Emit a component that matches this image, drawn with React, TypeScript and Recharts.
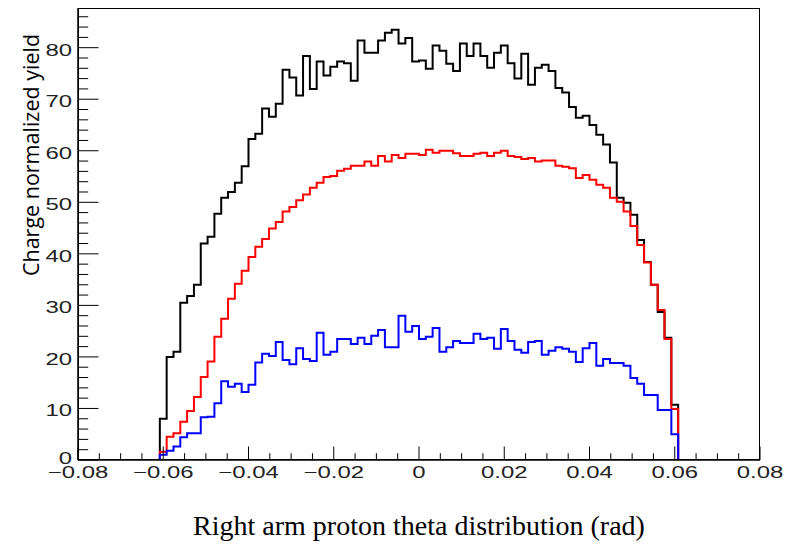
import React from "react";
import { LineChart, Line, XAxis, YAxis } from "recharts";

// histogram binning: 100 bins from -0.08 to 0.08
const BIN_LOW = -0.08;
const BIN_WIDTH = 0.0016;
const N_BINS = 100;
const FIRST_FILLED_BIN = 12;

// bins 12..87
const allEvents = [
  8, 20, 21, 30.5, 31.8, 34, 42, 43.3, 47.8, 50.9, 52, 53.8, 57, 62.3, 63.3, 68.2,
  66.6, 69.1, 75.7, 74.2, 70.7, 78.4, 72, 77.3, 74.6, 76.3, 77.3, 77, 73.6, 81.4,
  79, 79, 81.4, 82.9, 83.5, 80.8, 81.9, 77.3, 77.5, 75.9, 80.4, 79.4, 76.9, 75.5,
  80.8, 78.4, 80.8, 78.4, 76.1, 79, 80.4, 77, 74, 78.8, 72.8, 76.1, 76.7, 75.5,
  72.2, 71.3, 68.5, 66.4, 66.8, 65, 63.1, 61.2, 57.7, 50.9, 49.9, 47.6, 42.7, 38.4,
  34, 28.7, 23.7, 10.7,
];

const redEvents = [
  1.6, 4.5, 5.2, 7.4, 9.5, 12.2, 16.1, 19.1, 23.9, 27.4, 31.3, 34.2, 36.7, 39.4,
  41.4, 42.9, 44.9, 46.2, 48.2, 49.1, 50.4, 51.5, 52.8, 53.8, 54.9, 55.1, 56.1,
  56.5, 57.1, 57.1, 57.9, 57.1, 59, 57.9, 59.2, 58.6, 59.4, 59.4, 59.2, 60.2, 59.6,
  60, 60, 59.5, 59, 59, 59.4, 59.6, 59, 59.6, 60, 59, 58.8, 58.4, 58.6, 57.9, 58.1,
  58.1, 57.1, 56.9, 56.6, 54.7, 55.3, 54.4, 53.4, 52.8, 50.9, 50.1, 48.2, 45.4,
  41.7, 38.3, 34, 29.1, 23.5, 9.9,
];

const blueEvents = [
  1, 1.8, 2.6, 4.4, 5.2, 5.2, 8.3, 8.4, 11, 15.3, 14.2, 14.8, 13.2, 14.6, 18.9,
  20.6, 20.2, 22.9, 19.4, 18.6, 21.7, 19.6, 19.2, 24.7, 20.4, 21, 23.5, 23.5, 22.5,
  23.7, 22.5, 24.1, 25.2, 21.9, 21.9, 28, 24.9, 26, 23.5, 23.9, 25.6, 21, 21.9,
  23.1, 22.7, 22.7, 24.5, 23.5, 23.7, 21.6, 25.4, 23.1, 21.4, 20.8, 22.9, 23.1,
  20.4, 21.2, 21.9, 21.6, 21, 19, 21.7, 22.7, 18.3, 19.6, 18.8, 18.8, 18.3, 15.9,
  14.8, 12.6, 12.6, 9.7, 9.7, 5,
];

const xTicks: number[] = [];
for (let i = 0; i <= 32; i++) xTicks.push(Math.round((-0.08 + i * 0.005) * 1000) / 1000);
const yTicks: number[] = [];
for (let v = 0; v <= 86; v += 2) yTicks.push(v);

const binValue = (arr: number[], k: number) => {
  const i = k - FIRST_FILLED_BIN;
  return i >= 0 && i < arr.length ? arr[i] : 0;
};

const data: { x: number; all: number; red: number; blue: number }[] = [];
for (let k = 0; k <= N_BINS; k++) {
  data.push({
    x: Math.round((BIN_LOW + k * BIN_WIDTH) * 10000) / 10000,
    all: binValue(allEvents, k),
    red: binValue(redEvents, k),
    blue: binValue(blueEvents, k),
  });
}

const tickFont = "'Liberation Sans', Arial, sans-serif";
const STRETCH = 1.45; // labels in the original are stretched horizontally

const XTick = (props: any) => {
  const { x, y, payload } = props;
  const v = payload.value;
  const major = Math.round(v * 1000) % 20 === 0;
  const label = v === 0 ? "0" : (v < 0 ? "\u2212" : "") + Math.abs(v).toFixed(2);
  return (
    <g>
      <line x1={x} y1={y} x2={x} y2={y - (major ? 13.5 : 6.8)} stroke="#000" strokeWidth={1} />
      {major && (
        <text
          transform={`translate(${x},${y + 18}) scale(${STRETCH},1)`}
          textAnchor="middle"
          fontFamily={tickFont}
          fontSize={16.5}
          fill="#222"
        >
          {label}
        </text>
      )}
    </g>
  );
};

const YTick = (props: any) => {
  const { x, y, payload } = props;
  const v = payload.value;
  const major = v % 10 === 0;
  return (
    <g>
      <line x1={x} y1={y} x2={x + (major ? 20.5 : 10.2)} y2={y} stroke="#000" strokeWidth={1} />
      {major && (
        <text
          transform={`translate(${x - 6},${y + (v === 0 ? 4 : 8)}) scale(${STRETCH},1)`}
          textAnchor="end"
          fontFamily={tickFont}
          fontSize={16.5}
          fill="#222"
        >
          {v}
        </text>
      )}
    </g>
  );
};

export default function App() {
  return (
    <div style={{ position: "absolute", left: 0, top: 0, width: 785, height: 544, background: "#fff" }}>
      <LineChart width={785} height={544} data={data} margin={{ top: 8, right: 25, left: 0, bottom: 0 }}>
        <XAxis
          dataKey="x"
          type="number"
          domain={[-0.08, 0.08]}
          ticks={xTicks}
          interval={0}
          height={84}
          tickSize={0}
          tickMargin={0}
          tick={<XTick />}
          axisLine={{ stroke: "#000", strokeWidth: 1.5 }}
          allowDataOverflow
        />
        <YAxis
          type="number"
          domain={[0, 87.7]}
          ticks={yTicks}
          interval={0}
          width={78}
          tickSize={0}
          tickMargin={0}
          tick={<YTick />}
          axisLine={{ stroke: "#000", strokeWidth: 1.5 }}
          allowDataOverflow
        />
        <Line type="stepAfter" dataKey="all" stroke="#000" strokeWidth={2} dot={false} isAnimationActive={false} />
        <Line type="stepAfter" dataKey="red" stroke="#ff0000" strokeWidth={2} dot={false} isAnimationActive={false} />
        <Line type="stepAfter" dataKey="blue" stroke="#0000ff" strokeWidth={2} dot={false} isAnimationActive={false} />
      </LineChart>
      <div
        style={{
          position: "absolute",
          left: 78,
          top: 8,
          width: 682,
          height: 452,
          border: "1.5px solid #000",
          boxSizing: "border-box",
          pointerEvents: "none",
        }}
      />
      <div
        style={{
          position: "absolute",
          left: 30,
          top: 155,
          transform: "translate(-50%, -50%) rotate(-90deg)",
          whiteSpace: "nowrap",
          fontFamily: "'Open Sans', sans-serif",
          fontSize: 21.5,
          color: "#000",
        }}
      >
        Charge normalized yield
      </div>
      <div
        style={{
          position: "absolute",
          left: 419,
          top: 526,
          transform: "translate(-50%, -50%)",
          whiteSpace: "nowrap",
          fontFamily: "'Liberation Serif', serif",
          fontSize: 28,
          color: "#000",
        }}
      >
        Right arm proton theta distribution (rad)
      </div>
    </div>
  );
}
